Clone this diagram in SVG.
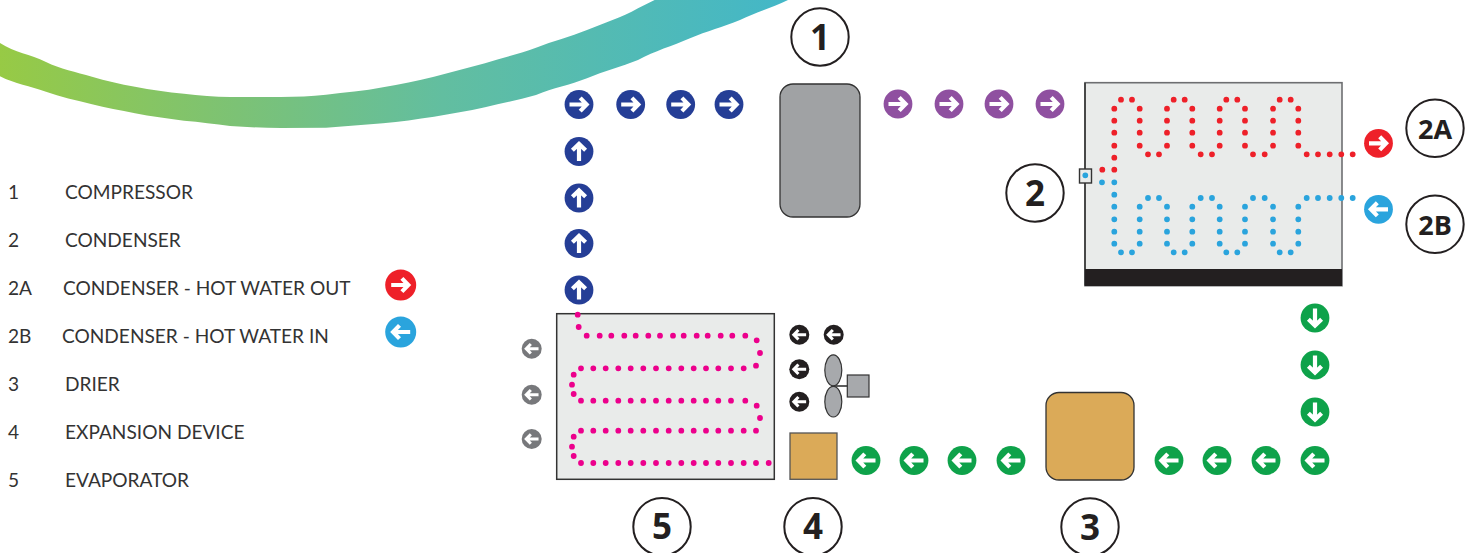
<svg xmlns="http://www.w3.org/2000/svg" xmlns:xlink="http://www.w3.org/1999/xlink" width="1469" height="553" viewBox="0 0 1469 553">
<style>
.lg{font-family:"Lato","Carlito","Liberation Sans",sans-serif;font-size:19.1px;fill:#333}
.num{font-family:"Open Sans","Liberation Sans",sans-serif;font-weight:700;font-size:35px;fill:#231f20;text-anchor:middle}
.num2{font-size:27px}
.ring{fill:#fff;stroke:#231f20;stroke-width:2}
.dots{fill:none;stroke-width:5.8;stroke-linecap:round}
.navy{fill:#253e96}.purple{fill:#8f50a0}.red{fill:#ee2029}.blue{fill:#2aa4dd}.green{fill:#0ea24a}.black{fill:#231f20}.grey{fill:#77787b}
</style>
<defs>
<linearGradient id="ribbon" gradientUnits="userSpaceOnUse" x1="0" y1="0" x2="790" y2="0">
<stop offset="0" stop-color="#97ca45"/><stop offset=".3" stop-color="#7cc275"/><stop offset=".56" stop-color="#62bea0"/><stop offset="1" stop-color="#43b7c8"/>
</linearGradient>
<g id="ar"><path d="M-9.5 0H7M1.2-6.6L7.6 0L1.2 6.6" fill="none" stroke="#fff" stroke-width="4.2"/></g>
<g id="al"><path d="M9.5 0H-7M-1.2-6.6L-7.6 0L-1.2 6.6" fill="none" stroke="#fff" stroke-width="4.2"/></g>
<g id="au"><path d="M0 9.5V-7M-6.6-1.2L0-7.6L6.6-1.2" fill="none" stroke="#fff" stroke-width="4.2"/></g>
<g id="ad"><path d="M0-9.5V7M-6.6 1.2L0 7.6L6.6 1.2" fill="none" stroke="#fff" stroke-width="4.2"/></g>
</defs>

<path id="swoosh" fill="url(#ribbon)" d="M0 43C15 53 30 54 46 62C60 69 76 72 92 76.7C106 81 120 84 135 86.7C151 90 167 92 184 93.7C199 95.5 215 97 230 97L281 97C297 96.5 311 96.5 326 94.7C345 92.5 364 91 383 87.3C400 84 417 81 434 76.7C451 72 468 68 485 63.3C502 58 519 54 536 47.7C553 41 570 37 587 30C604 23 621 18 638 8.3L654.6 0H788C772 8 756 12 740 20C723 27 707 31 690 38.3C672 46 655 51 638 60C621 67 604 71 587 78.3C570 85 553 88 536 95C519 100 502 103 485 107.3C468 111 451 114 434 116.7C417 119 400 122 383 123.3C364 125 345 126 326 127.7L281 128C264 128 247 127 230 126C215 124 200 122 184 120.7C167 118 151 117 135 113.3C120 110 106 108 92 104.3C76 100 60 97 46 91.7C30 86 15 84 0 76.3Z"/>

<g id="legend">
<text class="lg" x="8" y="199">1</text><text class="lg" x="65" y="199">COMPRESSOR</text>
<text class="lg" x="8" y="247">2</text><text class="lg" x="65" y="247">CONDENSER</text>
<text class="lg" x="8" y="295">2A</text><text class="lg" x="63" y="295">CONDENSER - HOT WATER OUT</text>
<text class="lg" x="8" y="343">2B</text><text class="lg" x="62" y="343">CONDENSER - HOT WATER IN</text>
<text class="lg" x="8" y="391">3</text><text class="lg" x="65" y="391">DRIER</text>
<text class="lg" x="8" y="439">4</text><text class="lg" x="65" y="439">EXPANSION DEVICE</text>
<text class="lg" x="8" y="487">5</text><text class="lg" x="65" y="487">EVAPORATOR</text>
<circle class="red" cx="400.7" cy="285" r="15.5"/><use href="#ar" transform="translate(400.7 285)"/>
<circle class="blue" cx="400.7" cy="332" r="15.5"/><use href="#al" transform="translate(400.7 332)"/>
</g>

<g id="node-compressor">
<rect x="780" y="84" width="80" height="133" rx="13" fill="#a0a2a4" stroke="#333" stroke-width="1.3"/>
<circle class="ring" cx="820" cy="37" r="28.7"/><text class="num" x="820" y="49.5">1</text>
</g>

<g id="node-condenser">
<rect x="1085" y="82.7" width="257" height="203" fill="#e9ebea" stroke="#6d6e71" stroke-width="1.6"/>
<path d="M1085 82.7V285.7" stroke="#333" stroke-width="1.5"/>
<rect x="1085" y="269" width="257" height="17" fill="#231f20"/>
<rect x="1079.5" y="169" width="12" height="14" fill="#e9ebea" stroke="#333" stroke-width="1.4"/>
<circle class="ring" cx="1035" cy="193" r="28.7"/><text class="num" x="1035" y="205.5">2</text>
</g>
<g id="node-2a"><circle class="ring" cx="1435" cy="128.3" r="28.7"/><text class="num num2" x="1435" y="139">2A</text></g>
<g id="node-2b"><circle class="ring" cx="1435" cy="224.3" r="28.7"/><text class="num num2" x="1435" y="235">2B</text></g>

<g id="node-drier">
<rect x="1046" y="392.5" width="88" height="87.5" rx="13" fill="#dbaa58" stroke="#333" stroke-width="1.3"/>
<circle class="ring" cx="1090" cy="527" r="28.7"/><text class="num" x="1090" y="539.5">3</text>
</g>

<g id="node-expansion">
<rect x="790" y="433" width="47" height="46.3" fill="#dbaa58" stroke="#555" stroke-width="1.3"/>
<circle class="ring" cx="813" cy="526.7" r="28.7"/><text class="num" x="813" y="539.2">4</text>
</g>

<g id="node-evaporator">
<rect x="556.7" y="313.7" width="217.6" height="165.6" fill="#e9ebea" stroke="#333" stroke-width="1.5"/>
<circle class="ring" cx="662" cy="526.7" r="28.7"/><text class="num" x="662" y="539.2">5</text>
</g>

<g id="node-fan" fill="#a7a9ac" stroke="#333" stroke-width="1.2">
<path d="M833 386H848" fill="none" stroke-width="1.6"/>
<ellipse cx="833.3" cy="370.3" rx="8.5" ry="15.5"/>
<ellipse cx="833.3" cy="401.7" rx="8.5" ry="15.3"/>
<rect x="847.3" y="375" width="21.7" height="22"/>
</g>

<g id="connectors">
<g id="flow-navy">
<circle class="navy" cx="579" cy="104.5" r="14.4"/><use href="#ar" transform="translate(579 104.5)"/>
<circle class="navy" cx="630.7" cy="104.5" r="14.4"/><use href="#ar" transform="translate(630.7 104.5)"/>
<circle class="navy" cx="680.7" cy="104.5" r="14.4"/><use href="#ar" transform="translate(680.7 104.5)"/>
<circle class="navy" cx="729" cy="104.5" r="14.4"/><use href="#ar" transform="translate(729 104.5)"/>
<circle class="navy" cx="579" cy="151.5" r="14.4"/><use href="#au" transform="translate(579 151.5)"/>
<circle class="navy" cx="579" cy="198" r="14.4"/><use href="#au" transform="translate(579 198)"/>
<circle class="navy" cx="579" cy="243.5" r="14.4"/><use href="#au" transform="translate(579 243.5)"/>
<circle class="navy" cx="579" cy="290" r="14.4"/><use href="#au" transform="translate(579 290)"/>
</g>
<g id="flow-purple">
<circle class="purple" cx="898" cy="104" r="14.4"/><use href="#ar" transform="translate(898 104)"/>
<circle class="purple" cx="949" cy="104" r="14.4"/><use href="#ar" transform="translate(949 104)"/>
<circle class="purple" cx="999" cy="104" r="14.4"/><use href="#ar" transform="translate(999 104)"/>
<circle class="purple" cx="1050" cy="104" r="14.4"/><use href="#ar" transform="translate(1050 104)"/>
</g>
<g id="flow-water">
<circle class="red" cx="1378.5" cy="143.3" r="14.4"/><use href="#ar" transform="translate(1378.5 143.3)"/>
<circle class="blue" cx="1378.5" cy="209.3" r="14.4"/><use href="#al" transform="translate(1378.5 209.3)"/>
</g>
<g id="flow-green">
<circle class="green" cx="1315" cy="318" r="14.4"/><use href="#ad" transform="translate(1315 318)"/>
<circle class="green" cx="1315" cy="365" r="14.4"/><use href="#ad" transform="translate(1315 365)"/>
<circle class="green" cx="1315" cy="412" r="14.4"/><use href="#ad" transform="translate(1315 412)"/>
<circle class="green" cx="1315" cy="460.5" r="14.4"/><use href="#al" transform="translate(1315 460.5)"/>
<circle class="green" cx="1266" cy="460.5" r="14.4"/><use href="#al" transform="translate(1266 460.5)"/>
<circle class="green" cx="1217" cy="460.5" r="14.4"/><use href="#al" transform="translate(1217 460.5)"/>
<circle class="green" cx="1169" cy="460.5" r="14.4"/><use href="#al" transform="translate(1169 460.5)"/>
<circle class="green" cx="1011" cy="460.5" r="14.4"/><use href="#al" transform="translate(1011 460.5)"/>
<circle class="green" cx="962" cy="460.5" r="14.4"/><use href="#al" transform="translate(962 460.5)"/>
<circle class="green" cx="914" cy="460.5" r="14.4"/><use href="#al" transform="translate(914 460.5)"/>
<circle class="green" cx="866" cy="460.5" r="14.4"/><use href="#al" transform="translate(866 460.5)"/>
</g>
<g id="flow-air">
<circle class="black" cx="799.3" cy="334.7" r="10"/><use href="#al" transform="translate(799.3 334.7) scale(.72)"/>
<circle class="black" cx="833.7" cy="334.7" r="10"/><use href="#al" transform="translate(833.7 334.7) scale(.72)"/>
<circle class="black" cx="799.3" cy="369.3" r="10"/><use href="#al" transform="translate(799.3 369.3) scale(.72)"/>
<circle class="black" cx="799.3" cy="401.7" r="10"/><use href="#al" transform="translate(799.3 401.7) scale(.72)"/>
<circle class="grey" cx="531.7" cy="348.7" r="10"/><use href="#al" transform="translate(531.7 348.7) scale(.72)"/>
<circle class="grey" cx="531.7" cy="394.7" r="10"/><use href="#al" transform="translate(531.7 394.7) scale(.72)"/>
<circle class="grey" cx="531.7" cy="439" r="10"/><use href="#al" transform="translate(531.7 439) scale(.72)"/>
</g>
<path id="pipe-hot" class="dots" stroke="#ee2029" d="M1102.3 169.7h0M1114.3 169.7h0M1114.3 157.7h0M1114.3 145.7h0M1114.3 132.7h0M1114.3 120.7h0M1114.3 108.7h0M1121 99.7h0M1132 99.7h0M1139.7 108.7h0M1139.7 120.7h0M1139.7 132.7h0M1139.7 145.7h0M1148 154.3h0M1159 154.3h0M1167 145.7h0M1167 132.7h0M1167 120.7h0M1167 108.7h0M1173.7 99.7h0M1184.7 99.7h0M1192.3 108.7h0M1192.3 120.7h0M1192.3 132.7h0M1192.3 145.7h0M1200.7 154.3h0M1212 154.3h0M1219.7 145.7h0M1219.7 132.7h0M1219.7 120.7h0M1219.7 108.7h0M1226.3 99.7h0M1237.3 99.7h0M1245 108.7h0M1245 120.7h0M1245 132.7h0M1245 145.7h0M1253 154.3h0M1264.7 154.3h0M1273 145.7h0M1273 132.7h0M1273 120.7h0M1273 108.7h0M1279.7 99.7h0M1290.7 99.7h0M1298.3 108.7h0M1298.3 120.7h0M1298.3 132.7h0M1298.3 145.7h0M1306.7 154.3h0M1318 154.3h0M1329.7 154.3h0M1341.3 154.3h0M1352.7 154.3h0"/>
<path id="pipe-cold" class="dots" stroke="#2aa4dd" d="M1085.3 175.3h0M1102 182.3h0M1114.3 182.3h0M1114.3 194.7h0M1114.3 206.7h0M1114.3 219.3h0M1114.3 231.7h0M1114.3 243.7h0M1121 252.3h0M1132 252.3h0M1139.7 243.7h0M1139.7 231.7h0M1139.7 219.3h0M1139.7 206.7h0M1148 198h0M1159 198h0M1167 206.7h0M1167 219.3h0M1167 231.7h0M1167 243.7h0M1173.7 252.3h0M1184.7 252.3h0M1192.3 243.7h0M1192.3 231.7h0M1192.3 219.3h0M1192.3 206.7h0M1200.7 198h0M1212 198h0M1219.7 206.7h0M1219.7 219.3h0M1219.7 231.7h0M1219.7 243.7h0M1226.3 252.3h0M1237.3 252.3h0M1245 243.7h0M1245 231.7h0M1245 219.3h0M1245 206.7h0M1253 198h0M1264.7 198h0M1273 206.7h0M1273 219.3h0M1273 231.7h0M1273 243.7h0M1279.7 252.3h0M1290.7 252.3h0M1298.3 243.7h0M1298.3 231.7h0M1298.3 219.3h0M1298.3 206.7h0M1306.7 198h0M1318 198h0M1329.7 198h0M1341.3 198h0M1352.7 198h0"/>
<path id="pipe-evap" class="dots" stroke="#ec008c" d="M577.7 314.7h0M578.7 327h0M586.7 335.7h0M599.7 335.7h0M611.3 335.7h0M624.3 335.7h0M635.7 335.7h0M648.3 335.7h0M660 335.7h0M673 335.7h0M683.7 335.7h0M696.7 335.7h0M707.7 335.7h0M720.7 335.7h0M732.3 335.7h0M745.3 335.7h0M756.7 340.3h0M760 353h0M756 365.7h0M743.7 368.3h0M731 368.3h0M718.3 368.3h0M706 368.3h0M693.7 368.3h0M681.3 368.3h0M668.7 368.3h0M656 368.3h0M643.3 368.3h0M630.7 368.3h0M618.3 368.3h0M605.7 368.3h0M593.3 368.3h0M581 368.3h0M573.7 374.7h0M572 384.7h0M573.7 394h0M581 400.7h0M593.3 400.7h0M605.7 400.7h0M618.3 400.7h0M630.7 400.7h0M643.3 400.7h0M656 400.7h0M668.7 400.7h0M681.3 400.7h0M693.7 400.7h0M706 400.7h0M718.3 400.7h0M731 400.7h0M745.3 400.7h0M756.7 405.7h0M760 418h0M756 430.7h0M743.7 430.7h0M731 430.7h0M718.3 430.7h0M706 430.7h0M693.7 430.7h0M681.3 430.7h0M668.7 430.7h0M656 430.7h0M643.3 430.7h0M630.7 430.7h0M618.3 430.7h0M605.7 430.7h0M593.3 430.7h0M581 430.7h0M573.7 436.7h0M572 446.7h0M573.7 456h0M581 463h0M593.3 463h0M605.7 463h0M618.3 463h0M630.7 463h0M643.3 463h0M656 463h0M668.7 463h0M681.3 463h0M693.7 463h0M706 463h0M718.3 463h0M731 463h0M743.7 463h0M756 463h0M768.7 463h0"/>
</g>
</svg>
